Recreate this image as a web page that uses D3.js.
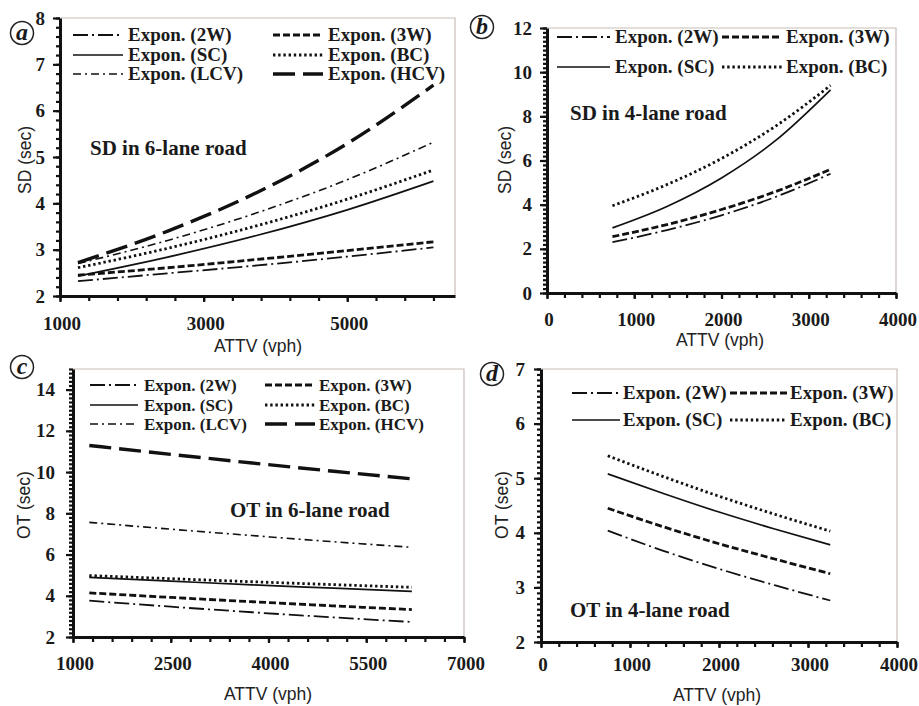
<!DOCTYPE html>
<html>
<head>
<meta charset="utf-8">
<script src="https://cdn.jsdelivr.net/npm/d3@7"></script>
<style>
  body { margin: 0; background: #fff; }
  svg { display: block; }
  .tick text { display: none; }
</style>
</head>
<body>
<div id="chart"></div>
<script>
// ATTV values where each fitted curve was read
var attvSix = [1250, 2500, 3750, 5000, 6200];
var attvFour = [750, 1375, 2000, 2625, 3250];

// (a) SD, 6-lane road
var sdSix2W  = [2.32, 2.49, 2.66, 2.85, 3.05];
var sdSix3W  = [2.45, 2.61, 2.79, 2.98, 3.17];
var sdSixSC  = [2.43, 2.84, 3.31, 3.86, 4.48];
var sdSixBC  = [2.61, 3.03, 3.52, 4.09, 4.72];
var sdSixLCV = [2.70, 3.20, 3.80, 4.51, 5.32];
var sdSixHCV = [2.72, 3.40, 4.24, 5.29, 6.55];

// (b) SD, 4-lane road
var sdFour2W = [2.30, 2.85, 3.52, 4.36, 5.40];
var sdFour3W = [2.55, 3.10, 3.78, 4.60, 5.60];
var sdFourSC = [2.95, 3.92, 5.21, 6.92, 9.20];
var sdFourBC = [3.95, 4.91, 6.09, 7.57, 9.40];

// (c) OT, 6-lane road
var otSix2W  = [3.76, 3.47, 3.20, 2.95, 2.73];
var otSix3W  = [4.14, 3.92, 3.71, 3.51, 3.33];
var otSixSC  = [4.89, 4.71, 4.53, 4.37, 4.21];
var otSixBC  = [4.98, 4.83, 4.68, 4.54, 4.41];
var otSixLCV = [7.56, 7.23, 6.92, 6.62, 6.35];
var otSixHCV = [11.29, 10.86, 10.44, 10.04, 9.67];

// (d) OT, 4-lane road
var otFour2W = [4.04, 3.67, 3.34, 3.04, 2.76];
var otFour3W = [4.45, 4.11, 3.80, 3.52, 3.25];
var otFourSC = [5.08, 4.72, 4.38, 4.07, 3.78];
var otFourBC = [5.41, 5.03, 4.67, 4.34, 4.03];

var seriesSix = ['2W', '3W', 'SC', 'BC', 'LCV', 'HCV'];
var seriesFour = ['2W', '3W', 'SC', 'BC'];

// tick labels
var xTicksA = [1000, 3000, 5000];
var yTicksA = [2, 3, 4, 5, 6, 7, 8];
var xTicksB = [0, 1000, 2000, 3000, 4000];
var yTicksB = [0, 2, 4, 6, 8, 10, 12];
var xTicksC = [1000, 2500, 4000, 5500, 7000];
var yTicksC = [2, 4, 6, 8, 10, 12, 14];
var xTicksD = [0, 1000, 2000, 3000, 4000];
var yTicksD = [2, 3, 4, 5, 6, 7];

var styles = {
  '2W':  { dash: '15,4,2,4', w: 1.8 },
  '3W':  { dash: '7,3', w: 2.8 },
  'SC':  { dash: null, w: 1.7 },
  'BC':  { dash: '2.4,2.8', w: 2.8 },
  'LCV': { dash: '8,4,2,4', w: 1.6 },
  'HCV': { dash: '22,8', w: 3.4 }
};

var serif = '"Liberation Serif", "Times New Roman", serif';
var sans = '"Liberation Sans", Arial, sans-serif';

var svg = d3.select('#chart').append('svg')
  .attr('width', 919)
  .attr('height', 706);

var panels = [
  { letter: 'a', cx: 22, cy: 33, xs: attvSix, xDom: [1000, 6500], xr: [60, 455], yDom: [2, 8], yr: [296, 18],
    xTicks: xTicksA, yTicks: yTicksA, xMinor: 400, yMinor: 0.2, names: seriesSix,
    data: [sdSix2W, sdSix3W, sdSixSC, sdSixBC, sdSixLCV, sdSixHCV],
    yTitle: 'SD (sec)', yTitleX: 31, yTitleY: 160, xTitleX: 258, xTitleY: 352, xLabY: 330, yLabDx: 15,
    legX: [73, 273], legLen: [50, 50], legTx: [128, 328], legY: [35, 55, 74], legFont: 19,
    note: 'SD in 6-lane road', noteX: 90, noteY: 155 },
  { letter: 'b', cx: 482, cy: 27, xs: attvFour, xDom: [0, 4000], xr: [547, 896], yDom: [0, 12], yr: [293, 28],
    xTicks: xTicksB, yTicks: yTicksB, xMinor: 200, yMinor: 0.2, names: seriesFour,
    data: [sdFour2W, sdFour3W, sdFourSC, sdFourBC],
    yTitle: 'SD (sec)', yTitleX: 511, yTitleY: 160, xTitleX: 720, xTitleY: 346, xLabY: 326, yLabDx: 15,
    legX: [557, 722], legLen: [53, 60], legTx: [615, 786], legY: [37, 67], legFont: 19,
    note: 'SD in 4-lane road', noteX: 570, noteY: 120 },
  { letter: 'c', cx: 22, cy: 367, xs: attvSix, xDom: [1000, 7000], xr: [73, 464], yDom: [2, 15], yr: [637, 369],
    xTicks: xTicksC, yTicks: yTicksC, xMinor: 300, yMinor: 0.2, names: seriesSix,
    data: [otSix2W, otSix3W, otSixSC, otSixBC, otSixLCV, otSixHCV],
    yTitle: 'OT (sec)', yTitleX: 30, yTitleY: 505, xTitleX: 268, xTitleY: 700, xLabY: 670, yLabDx: 18,
    legX: [90, 265], legLen: [48, 50], legTx: [144, 319], legY: [385, 405, 424], legFont: 17,
    note: 'OT in 6-lane road', noteX: 230, noteY: 517 },
  { letter: 'd', cx: 492, cy: 374, xs: attvFour, xDom: [0, 4000], xr: [541, 897], yDom: [2, 7], yr: [642, 369],
    xTicks: xTicksD, yTicks: yTicksD, xMinor: 200, yMinor: 0.1, names: seriesFour,
    data: [otFour2W, otFour3W, otFourSC, otFourBC],
    yTitle: 'OT (sec)', yTitleX: 508, yTitleY: 505, xTitleX: 717, xTitleY: 701, xLabY: 671, yLabDx: 16,
    legX: [572, 730], legLen: [48, 57], legTx: [623, 790], legY: [393, 420], legFont: 19,
    note: 'OT in 4-lane road', noteX: 570, noteY: 617 }
];

panels.forEach(function(p) {
  var x = d3.scaleLinear().domain(p.xDom).range(p.xr);
  var y = d3.scaleLinear().domain(p.yDom).range(p.yr);
  var g = svg.append('g');

  // light frame on top and right
  g.append('path')
    .attr('d', 'M' + p.xr[0] + ',' + p.yr[1] + 'H' + p.xr[1] + 'V' + p.yr[0])
    .attr('fill', 'none')
    .attr('stroke', '#c9bdb6')
    .attr('stroke-width', 1.2);

  // minor ticks
  var xMin = d3.range(p.xDom[0], p.xDom[1] + 1e-6, p.xMinor);
  var yMin = d3.range(p.yDom[0], p.yDom[1] + 1e-6, p.yMinor);

  g.append('g')
    .attr('transform', 'translate(0,' + p.yr[0] + ')')
    .call(d3.axisBottom(x).tickValues(xMin).tickSize(5).tickFormat(''))
    .call(function(s) { s.select('.domain').remove(); });
  g.append('g')
    .attr('transform', 'translate(' + p.xr[0] + ',0)')
    .call(d3.axisLeft(y).tickValues(yMin).tickSize(4).tickFormat(''))
    .call(function(s) { s.select('.domain').remove(); });

  // major ticks + axis lines
  var xa = g.append('g')
    .attr('transform', 'translate(0,' + p.yr[0] + ')')
    .call(d3.axisBottom(x).tickValues(p.xTicks).tickSize(6).tickSizeOuter(0));
  var ya = g.append('g')
    .attr('transform', 'translate(' + p.xr[0] + ',0)')
    .call(d3.axisLeft(y).tickValues(p.yTicks).tickSize(7).tickSizeOuter(0));
  g.selectAll('.tick line').attr('stroke', '#111').attr('stroke-width', 2.2);
  [xa, ya].forEach(function(a) {
    a.select('.domain').attr('stroke', '#111').attr('stroke-width', 3);
  });

  // tick labels
  g.selectAll('.xlab').data(p.xTicks).enter().append('text')
    .attr('x', function(d) { return x(d) + 2; })
    .attr('y', p.xLabY)
    .attr('text-anchor', 'middle')
    .style('font-family', serif).style('font-weight', 'bold').style('font-size', '19px')
    .attr('fill', '#1a1a1a')
    .text(function(d) { return d; });
  g.selectAll('.ylab').data(p.yTicks).enter().append('text')
    .attr('x', p.xr[0] - p.yLabDx)
    .attr('y', function(d) { return y(d); })
    .attr('dy', '0.35em')
    .attr('text-anchor', 'end')
    .style('font-family', serif).style('font-weight', 'bold').style('font-size', '19px')
    .attr('fill', '#1a1a1a')
    .text(function(d) { return d; });

  // axis titles
  g.append('text')
    .attr('x', p.xTitleX).attr('y', p.xTitleY)
    .attr('text-anchor', 'middle')
    .style('font-family', sans).style('font-size', '17.5px')
    .attr('fill', '#222')
    .text('ATTV (vph)');
  g.append('text')
    .attr('transform', 'translate(' + p.yTitleX + ',' + p.yTitleY + ') rotate(-90)')
    .attr('text-anchor', 'middle')
    .style('font-family', sans).style('font-size', '17.5px')
    .attr('fill', '#222')
    .text(p.yTitle);

  // curves
  var line = d3.line()
    .x(function(d) { return x(d[0]); })
    .y(function(d) { return y(d[1]); })
    .curve(d3.curveMonotoneX);

  p.names.forEach(function(name, i) {
    var st = styles[name];
    g.append('path')
      .datum(d3.zip(p.xs, p.data[i]))
      .attr('d', line)
      .attr('fill', 'none')
      .attr('stroke', '#111')
      .attr('stroke-width', st.w)
      .attr('stroke-dasharray', st.dash);
  });

  // legend
  p.names.forEach(function(name, i) {
    var col = i % 2, row = Math.floor(i / 2);
    var st = styles[name];
    var ly = p.legY[row];
    g.append('line')
      .attr('x1', p.legX[col]).attr('x2', p.legX[col] + p.legLen[col])
      .attr('y1', ly).attr('y2', ly)
      .attr('stroke', '#111')
      .attr('stroke-width', st.w)
      .attr('stroke-dasharray', st.dash);
    g.append('text')
      .attr('x', p.legTx[col]).attr('y', ly)
      .attr('dy', '0.33em')
      .style('font-family', serif).style('font-weight', 'bold').style('font-size', p.legFont + 'px')
      .attr('fill', '#1a1a1a')
      .text('Expon. (' + name + ')');
  });

  // panel note
  g.append('text')
    .attr('x', p.noteX).attr('y', p.noteY)
    .style('font-family', serif).style('font-weight', 'bold').style('font-size', '21px')
    .attr('fill', '#1a1a1a')
    .text(p.note);

  // circled letter
  g.append('circle')
    .attr('cx', p.cx).attr('cy', p.cy).attr('r', 11.5)
    .attr('fill', '#fff')
    .attr('stroke', '#222').attr('stroke-width', 1.5);
  g.append('text')
    .attr('x', p.cx).attr('y', p.cy)
    .attr('dy', '0.3em')
    .attr('text-anchor', 'middle')
    .style('font-family', serif).style('font-weight', 'bold').style('font-style', 'italic').style('font-size', '24px')
    .attr('fill', '#1a1a1a')
    .text(p.letter);
});
</script>
</body>
</html>
